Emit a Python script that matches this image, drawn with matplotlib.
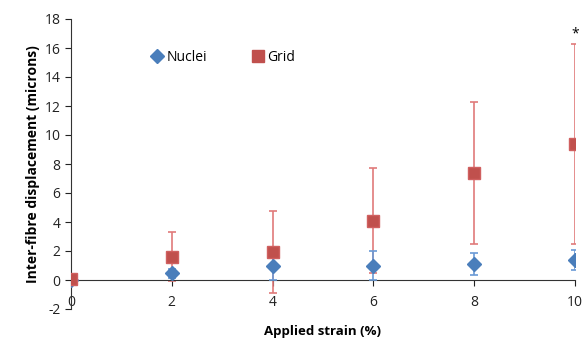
import matplotlib
matplotlib.use("Agg")
import matplotlib.pyplot as plt
from matplotlib.lines import Line2D

strain = [0, 2, 4, 6, 8, 10]
nuclei = [0.0, 0.46, 1.0, 1.0, 1.1, 1.38]
nuclei_err = [0.0, 0.3, 1.0, 1.0, 0.75, 0.7]
grid = [0.1, 1.6, 1.93, 4.1, 7.35, 9.4]
grid_err = [0.0, 1.7, 2.8, 3.6, 4.9, 6.9]
yticks = [-2, 0, 2, 4, 6, 8, 10, 12, 14, 16, 18]
xticks = [0, 2, 4, 6, 8, 10]

plt.rcParams['font.family'] = ['Open Sans', 'DejaVu Sans']
plt.rcParams['axes.unicode_minus'] = False

fig = plt.figure(figsize=(5.87, 3.41), dpi=100)
ax = fig.add_axes([71/587, 1-309/341, (575-71)/587, (309-19)/341])

blue = '#4A7EBB'
red = '#C0504D'

ax.errorbar(strain, grid, yerr=grid_err, fmt='none', ecolor='#E07A7A',
            elinewidth=1.2, capsize=3, capthick=1.2, zorder=2)
ax.errorbar(strain, nuclei, yerr=nuclei_err, fmt='none', ecolor='#6A9AD6',
            elinewidth=1.2, capsize=3, capthick=1.2, zorder=3)
ax.plot(strain, nuclei, 'D', color=blue, markersize=7, zorder=4)
ax.plot(strain, grid, 's', color=red, markersize=8.5, markeredgecolor='#D06060', zorder=5)

ax.set_xlim(0, 10)
ax.set_ylim(-2, 18)
ax.set_yticks(yticks)
ax.set_xticks(xticks)
ax.spines['top'].set_visible(False)
ax.spines['right'].set_visible(False)
ax.spines['bottom'].set_position(('data', 0))
ax.spines['left'].set_color('#333333')
ax.spines['bottom'].set_color('#333333')
ax.tick_params(axis='both', direction='out', length=4, labelsize=10, colors='#222222')
ax.tick_params(axis='x', pad=7)

ax.set_xlabel('Applied strain (%)', fontsize=9.5, fontweight='bold')
ax.set_ylabel('Inter-fibre displacement (microns)', fontsize=10, fontweight='bold', labelpad=3)
ax.xaxis.set_label_coords(0.5, -0.055)

ax.text(10, 17.0, '*', ha='center', va='center', fontsize=10)

handles = [Line2D([], [], marker='D', linestyle='none', color=blue, markersize=7),
           Line2D([], [], marker='s', linestyle='none', color=red, markersize=8.5)]
ax.legend(handles, ['Nuclei', 'Grid'], loc='upper left', bbox_to_anchor=(0.13, 0.935),
          ncol=2, frameon=False, fontsize=10, handletextpad=0.1, columnspacing=3.0,
          handlelength=1.2)

fig.savefig('out.png', dpi=100)
